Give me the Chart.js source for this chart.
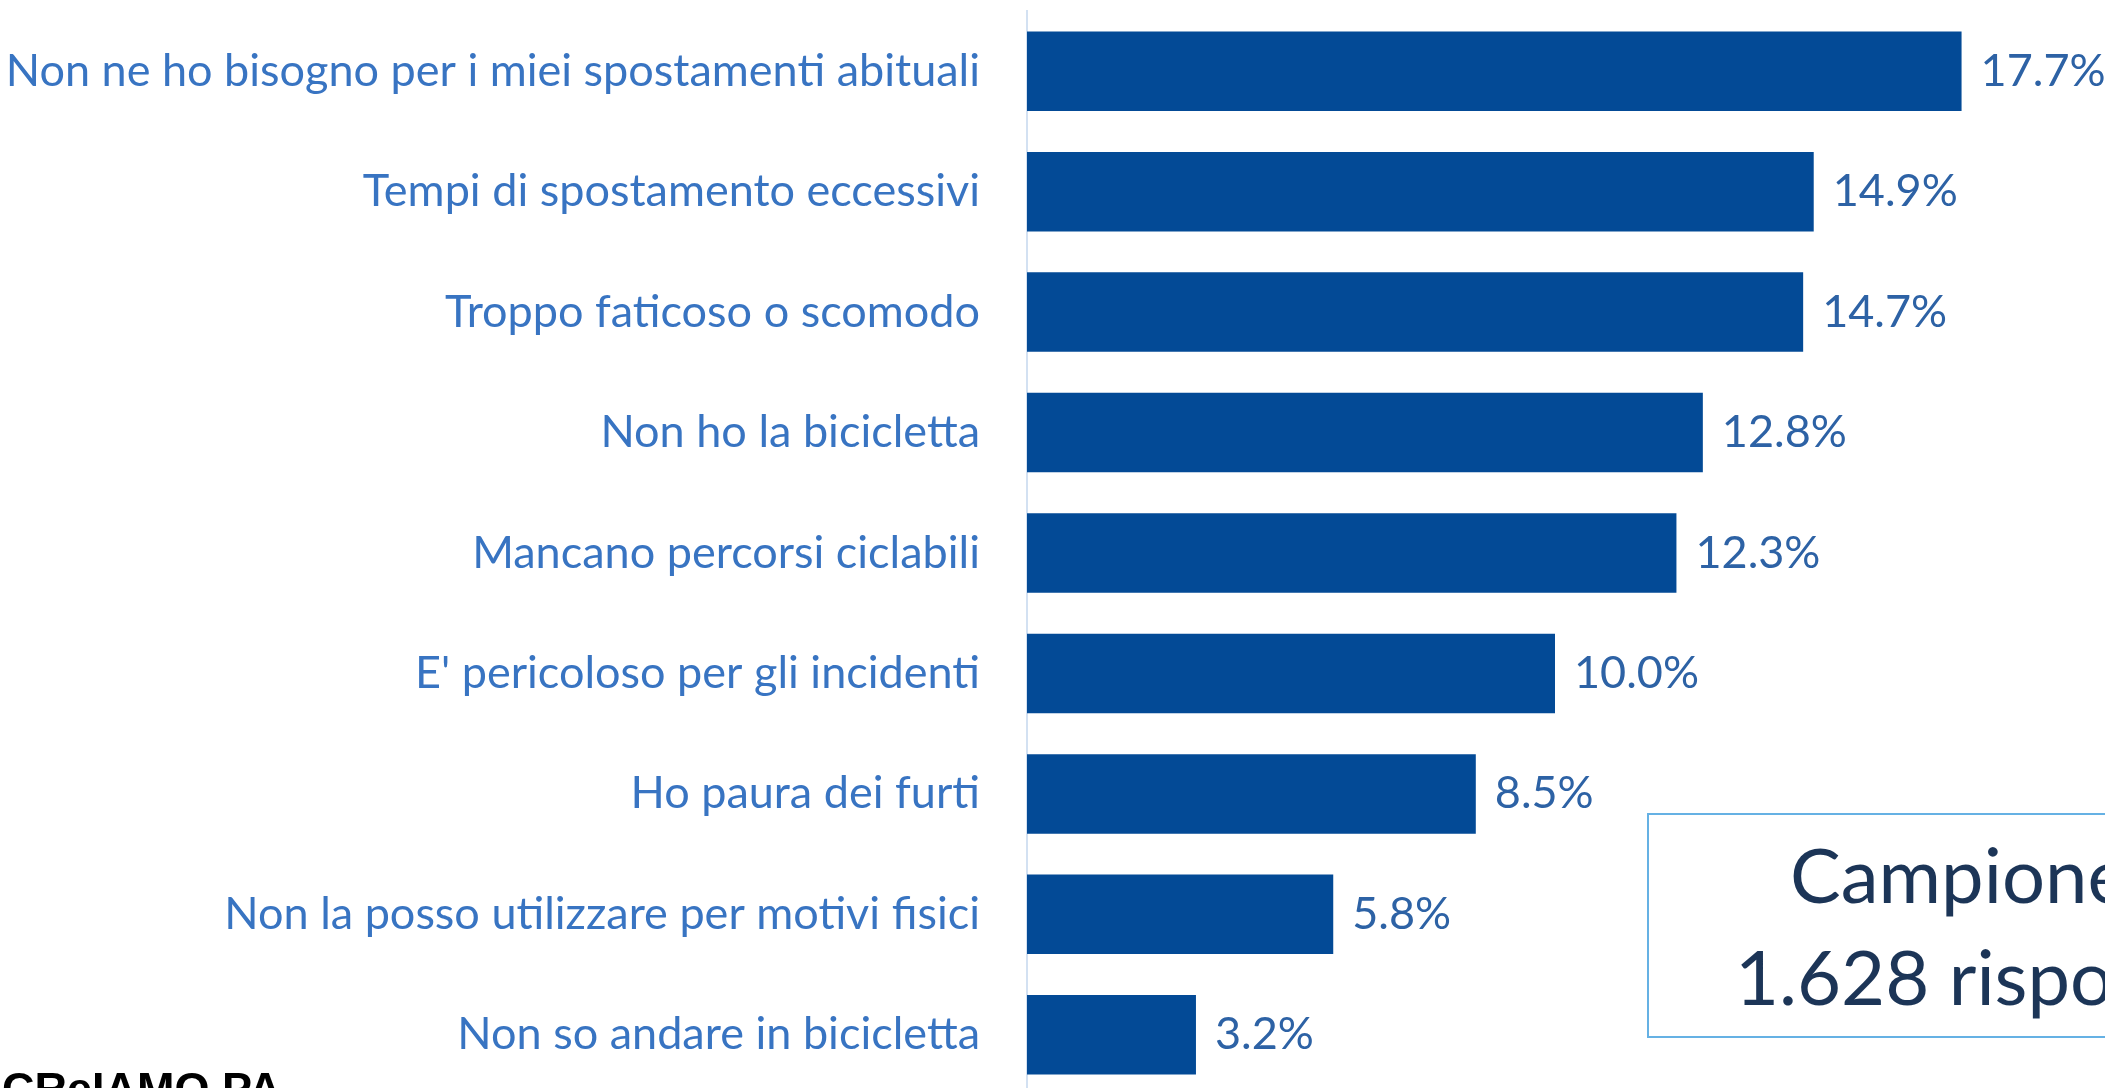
<!DOCTYPE html>
<html>
<head>
<meta charset="utf-8">
<script src="https://cdn.jsdelivr.net/npm/chart.js@4/dist/chart.umd.min.js"></script>
<style>
  html, body { margin: 0; padding: 0; background: #fff; }
  body { width: 2105px; height: 1088px; overflow: hidden; position: relative; }
  #wrap { position: absolute; left: 0; top: 0; width: 2105px; height: 1095px; }
  .box {
    position: absolute; left: 1647px; top: 813px; width: 600px; height: 225px;
    border: 2px solid #65B1E4; box-sizing: border-box;
  }
  .boxText {
    position: absolute; font-family: Lato, sans-serif; font-size: 76px; line-height: 1;
    color: #1C3557; white-space: nowrap;
  }
  .logo {
    position: absolute; left: 2px; top: 1066px; font-family: "Liberation Sans", Arial, sans-serif;
    font-weight: bold; font-size: 45px; line-height: 1; color: #000; white-space: nowrap;
  }
</style>
</head>
<body>
<div id="wrap"><canvas id="barChart" width="2105" height="1095"></canvas></div>
<div class="box"></div>
<div class="boxText" style="left:1790px; top:836px;">Campione</div>
<div class="boxText" style="left:1735px; top:938px;">1.628 risposte</div>
<div class="logo">CReIAMO PA</div>

<script>
// motivi per non usare la bicicletta
const reasons = [
  "Non ne ho bisogno per i miei spostamenti abituali",
  "Tempi di spostamento eccessivi",
  "Troppo faticoso o scomodo",
  "Non ho la bicicletta",
  "Mancano percorsi ciclabili",
  "E' pericoloso per gli incidenti",
  "Ho paura dei furti",
  "Non la posso utilizzare per motivi fisici",
  "Non so andare in bicicletta"
];
const shares = [17.7, 14.9, 14.7, 12.8, 12.3, 10.0, 8.5, 5.8, 3.2];

const barColor = '#034A96';
const labelColor = '#3874C2';
const valueColor = '#2D62A5';

// fit label font so the longest label is about as wide as in the slide
const measure = document.createElement('canvas').getContext('2d');
measure.font = '100px Lato';
const longest = Math.max(...reasons.map(r => measure.measureText(r).width));
const labelSize = Math.round(100 * 967 / longest);

// value labels at the end of each bar
const valueLabels = {
  id: 'valueLabels',
  afterDatasetsDraw(chart) {
    const ctx = chart.ctx;
    const meta = chart.getDatasetMeta(0);
    ctx.save();
    ctx.font = labelSize + 'px Lato';
    ctx.fillStyle = valueColor;
    ctx.textAlign = 'left';
    ctx.textBaseline = 'middle';
    meta.data.forEach((bar, i) => {
      ctx.fillText(shares[i].toFixed(1) + '%', bar.x + 19, bar.y);
    });
    ctx.restore();
  }
};

const ctx = document.getElementById('barChart').getContext('2d');
new Chart(ctx, {
  type: 'bar',
  data: {
    labels: reasons,
    datasets: [{
      data: shares,
      backgroundColor: barColor,
      borderWidth: 0,
      categoryPercentage: 1,
      barPercentage: 0.66
    }]
  },
  options: {
    indexAxis: 'y',
    responsive: false,
    animation: false,
    layout: { padding: { top: 11, right: 22, bottom: 0, left: 0 } },
    plugins: {
      legend: { display: false },
      tooltip: { enabled: false }
    },
    scales: {
      x: {
        display: false,
        min: 0,
        max: 20
      },
      y: {
        afterFit(scale) {
          scale.width = 1027;
          // labels sit inside the bands, no extra room needed above/below
          scale.paddingTop = 0;
          scale.paddingBottom = 0;
        },
        grid: { display: false, drawTicks: false },
        border: { display: true, color: '#D3E1F2', width: 2 },
        ticks: {
          color: labelColor,
          padding: 47,
          font: { family: 'Lato', size: labelSize }
        }
      }
    }
  },
  plugins: [valueLabels]
});
</script>
</body>
</html>
